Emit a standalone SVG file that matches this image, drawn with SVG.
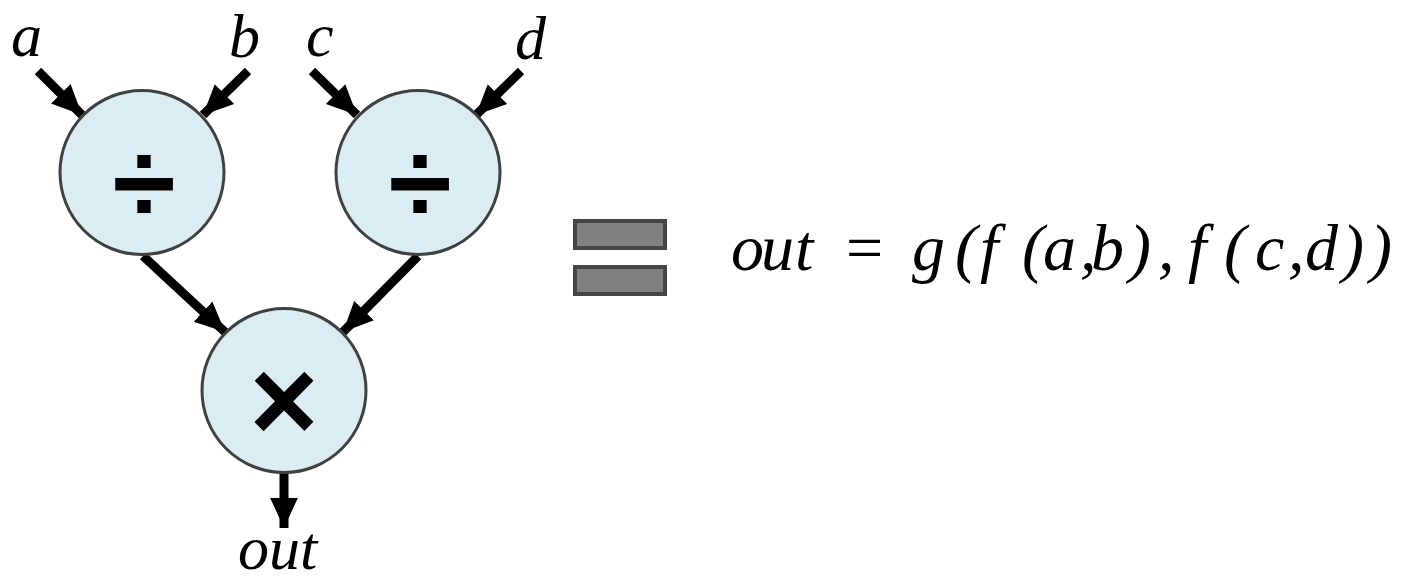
<svg xmlns="http://www.w3.org/2000/svg" width="1401" height="583" viewBox="0 0 1401 583">
<style>
.node{fill:#dbedf3;stroke:#404040;stroke-width:3}
.op{font-family:"Liberation Sans",Arial,sans-serif;font-weight:bold;fill:#000;text-anchor:middle}
.var{font-family:"Liberation Serif","Times New Roman",serif;font-style:italic;font-size:66px;fill:#000}
.lbl{font-size:62px}
.conn{stroke:#000;stroke-width:9;fill:none;marker-end:url(#ah)}
.eqbar{fill:#808080;stroke:#464646;stroke-width:4}
</style>
<defs>
<marker id="ah" markerUnits="userSpaceOnUse" markerWidth="30" markerHeight="30" viewBox="0 0 26 24" refX="26" refY="12" orient="auto">
<path d="M0,0 L26,12 L0,24 Z" fill="#000"/>
</marker>
</defs>
<g id="connectors">
<line class="conn" x1="38" y1="71" x2="82" y2="115"/>
<line class="conn" x1="248" y1="71" x2="203" y2="115"/>
<line class="conn" x1="312" y1="71" x2="357" y2="115"/>
<line class="conn" x1="521" y1="71" x2="476" y2="115"/>
<line class="conn" x1="143" y1="256" x2="225" y2="332"/>
<line class="conn" x1="418" y1="256" x2="343" y2="332"/>
<line class="conn" x1="284" y1="473" x2="284" y2="528"/>
</g>
<g id="node-div1">
<circle class="node" cx="142" cy="172.5" r="82"/>
<text class="op" x="144" y="223" font-size="115">÷</text>
</g>
<g id="node-div2">
<circle class="node" cx="418" cy="172.5" r="82"/>
<text class="op" x="420" y="223" font-size="115">÷</text>
</g>
<g id="node-mul">
<circle class="node" cx="284" cy="390.5" r="82"/>
<text class="op" x="284" y="441" font-size="118">×</text>
</g>
<g id="labels">
<text class="var lbl" x="11" y="56">a</text>
<text class="var lbl" x="229" y="57">b</text>
<text class="var lbl" x="306" y="56">c</text>
<text class="var lbl" x="515" y="59">d</text>
<text class="var lbl" x="238" y="569">out</text>
</g>
<g id="equals">
<rect class="eqbar" x="575" y="221" width="90" height="27"/>
<rect class="eqbar" x="575" y="267" width="90" height="27"/>
</g>
<g id="equation">
<text class="var" y="270"><tspan x="731 761 795">out</tspan><tspan x="846" font-style="normal">=</tspan><tspan x="912 955 980 1022 1043 1080 1091 1129 1158 1188 1224 1255 1288 1305 1342 1370">g(f(a,b),f(c,d))</tspan></text>
</g>
</svg>
